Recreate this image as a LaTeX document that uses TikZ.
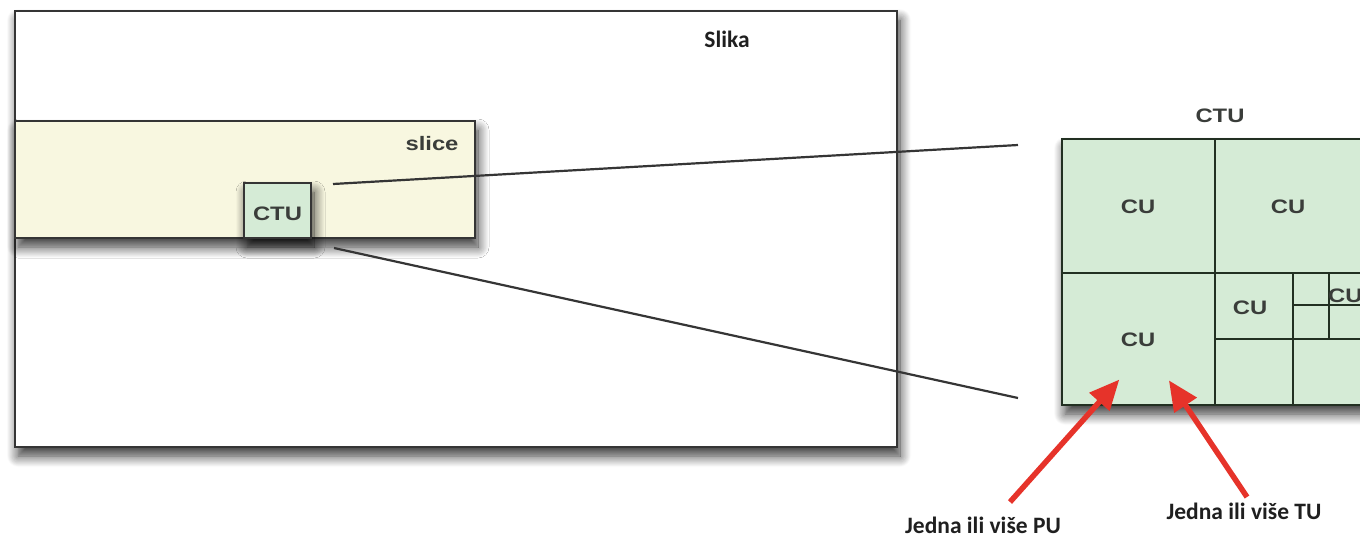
\documentclass[tikz,border=0pt]{standalone}
\usepackage{fontspec}
\newfontfamily\calib{Carlito}[BoldFont={* Bold}]
\newfontfamily\helv{Liberation Sans Bold}[FakeStretch=1.22]
\usetikzlibrary{arrows.meta,shadows.blur}

\definecolor{frameline}{HTML}{353535}
\definecolor{slicefill}{HTML}{F8F7E0}
\definecolor{ctufill}{HTML}{D5EBD6}
\definecolor{gridline}{HTML}{223022}
\definecolor{textgrey}{HTML}{3A3D3A}
\definecolor{arrowred}{HTML}{E6332A}

\tikzset{
  boxshadow/.style={blur shadow={shadow xshift=3pt, shadow yshift=-9pt,
      shadow blur radius=11pt, shadow blur steps=12, shadow opacity=80}},
  framebox/.style={draw=frameline, line width=2.8pt, fill=white, boxshadow},
  slicebox/.style={draw=frameline, line width=2.6pt, fill=slicefill, boxshadow},
  ctubox/.style={draw=frameline, line width=2.4pt, fill=ctufill, boxshadow},
  gridl/.style={draw=gridline, line width=2.6pt},
  zoomline/.style={draw=frameline, line width=2.2pt},
  sanslabel/.style={inner sep=0pt, anchor=base, text=textgrey,
      font=\helv\fontsize{19.5}{24}\selectfont},
  callout/.style={inner sep=0pt, anchor=base, text=black!88,
      font=\calib\bfseries\fontsize{23.5}{28}\selectfont},
  redarrow/.style={draw=arrowred, line width=5.5pt,
      -{Triangle[length=30pt,width=26pt]}, shorten >=-2pt}
}

\begin{document}
\begin{tikzpicture}[x=1pt, y=-1pt]
\useasboundingbox (0,0) rectangle (1360,539);
\clip (0,0) rectangle (1360,539);

% picture frame
\path[framebox] (15,11) rectangle (897,447);
\node[callout] (slika) at (727,47) {Slika};

% slice band
\path[slicebox] (15,121) rectangle (475,238);
\node[sanslabel] (slicelbl) at (432,150) {slice};

% single CTU inside the slice
\path[ctubox] (244,183) rectangle (311,238);
\node[sanslabel] (ctusmall) at (277.5,220) {CTU};

% enlarged CTU split into CUs
\path[fill=ctufill, boxshadow] (1062,139) rectangle (1372,405);
\path[gridl] (1062,139) rectangle (1372,405);
\path[gridl] (1215,139) -- (1215,405);
\path[gridl] (1062,273) -- (1372,273);
\path[gridl] (1293,273) -- (1293,405);
\path[gridl] (1215,339) -- (1372,339);
\path[gridl] (1329,273) -- (1329,339);
\path[gridl] (1293,305) -- (1372,305);

\node[sanslabel] (ctubig) at (1220,122) {CTU};
\node[sanslabel] (cu1) at (1138,213) {CU};
\node[sanslabel] (cu2) at (1288,213) {CU};
\node[sanslabel] (cu3) at (1138,346) {CU};
\node[sanslabel] (cu4) at (1250,314) {CU};
\node[sanslabel, anchor=base west] (cu5) at (1328,302) {CU};

% zoom lines from the small CTU to the enlarged one
\coordinate (za) at (333,184);
\coordinate (zb) at (1018,145);
\coordinate (zc) at (334,248);
\coordinate (zd) at (1018,398);
\path[zoomline] (za) -- (zb);
\path[zoomline] (zc) -- (zd);

% callouts
\node[callout] (pu) at (983,533) {Jedna ili više PU};
\node[callout] (tu) at (1244,519) {Jedna ili više TU};
\coordinate (puhead) at (1118,381);
\coordinate (tuhead) at (1170,382);
\coordinate (putail) at (1010,502);
\coordinate (tutail) at (1247,497);
\path[redarrow] (putail) -- (puhead);
\path[redarrow] (tutail) -- (tuhead);
\end{tikzpicture}
\end{document}
